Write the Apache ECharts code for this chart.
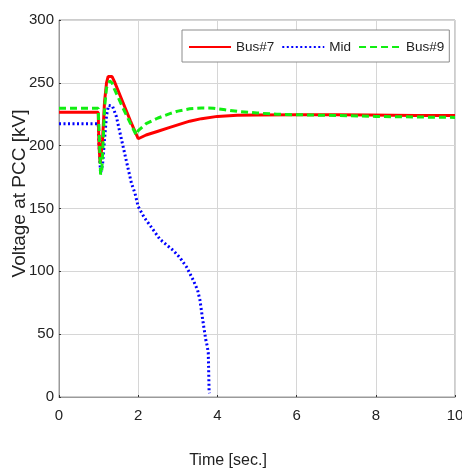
<!DOCTYPE html>
<html>
<head>
<meta charset="utf-8">
<script src="https://cdn.jsdelivr.net/npm/echarts@6/dist/echarts.min.js"></script>
<style>
  html, body { margin: 0; padding: 0; background: #fff; }
  #chart { width: 462px; height: 470px; }
</style>
</head>
<body>
<div id="chart"></div>
<script>
// Voltage at PCC after a disturbance at t = 1 s
const timeBus7 = [0, 0.99, 1.01, 1.04, 1.07, 1.1, 1.15, 1.2, 1.24, 1.28, 1.34, 1.4, 1.6, 1.8, 2.0, 2.2, 2.5, 2.8, 3.0, 3.3, 3.6, 4.0, 4.5, 5.0, 6.0, 7.0, 7.85, 7.9, 9.0, 10];
const voltBus7 = [226.5, 226.5, 200, 186, 187, 205, 235, 250, 255, 256.5, 255, 251, 235.5, 220, 205.5, 208.5, 211.5, 214.5, 216.5, 219.5, 221.5, 223.3, 224.2, 224.5, 224.6, 224.6, 224.5, 224, 224, 224];

const timeMid = [0, 0.99, 1.02, 1.05, 1.1, 1.15, 1.2, 1.25, 1.29, 1.35, 1.45, 1.57, 1.7, 1.83, 1.92, 2.0, 2.15, 2.3, 2.55, 2.72, 2.89, 3.05, 3.22, 3.39, 3.5, 3.56, 3.64, 3.71, 3.74, 3.77, 3.79, 3.8];
const voltMid = [217.5, 217.5, 195, 178, 185, 205, 224, 232, 233.5, 231.5, 223, 206, 188, 170, 162, 151.5, 143, 136.5, 125.5, 121, 116.5, 111, 103.5, 93, 85, 77, 59, 45, 41, 35, 5, 3];

const timeBus9 = [0, 0.99, 1.02, 1.05, 1.08, 1.11, 1.15, 1.2, 1.28, 1.34, 1.4, 1.6, 1.8, 1.95, 2.0, 2.2, 2.5, 2.8, 3.0, 3.3, 3.6, 3.9, 4.2, 4.5, 5.0, 5.5, 6.0, 7.0, 8.0, 9.0, 10];
const voltBus9 = [229.8, 229.8, 205, 177, 180, 200, 230, 246, 251.5, 250, 245, 231, 218, 208.5, 212, 217.5, 222, 225.5, 227.5, 229.3, 230, 229.8, 228.5, 227.3, 226, 225, 224.6, 224, 223.3, 222.8, 222.5];

const seriesNames = ['Bus#7', 'Mid', 'Bus#9'];
const timeTicks = { min: 0, max: 10, step: 2 };
const voltTicks = { min: 0, max: 300, step: 50 };

const zip = (ts, vs) => ts.map((t, i) => [t, vs[i]]);

const font = "'Liberation Sans', Arial, sans-serif";

const chart = echarts.init(document.getElementById('chart'), null, { renderer: 'canvas' });

chart.setOption({
  backgroundColor: '#ffffff',
  animation: false,
  grid: {
    left: 59, right: 7, top: 20, bottom: 73,
    containLabel: false,
    outerBoundsMode: 'none',
    show: true, borderColor: '#9a9a9a', borderWidth: 1
  },
  legend: {
    data: seriesNames,
    left: 182, top: 30,
    orient: 'horizontal',
    padding: [10, 5, 8, 6],
    itemWidth: 42, itemHeight: 10, itemGap: 7,
    itemStyle: { opacity: 0 },
    borderColor: '#8c8c8c', borderWidth: 1,
    backgroundColor: '#ffffff',
    textStyle: { fontFamily: font, fontSize: 13.5, color: '#222' }
  },
  xAxis: {
    type: 'value',
    min: timeTicks.min, max: timeTicks.max, interval: timeTicks.step,
    name: 'Time [sec.]',
    nameLocation: 'middle',
    nameGap: 56,
    nameMoveOverlap: false,
    nameTextStyle: { fontFamily: font, fontSize: 16, color: '#222', padding: [0, 58, 0, 0] },
    axisLine: { show: true, lineStyle: { color: '#9a9a9a' } },
    axisTick: { show: true, inside: true, length: 2, lineStyle: { color: '#333' } },
    axisLabel: { fontFamily: font, fontSize: 15, color: '#222', margin: 11 },
    splitLine: { show: true, lineStyle: { color: '#d6d6d6', width: 1 } }
  },
  yAxis: {
    type: 'value',
    min: voltTicks.min, max: voltTicks.max, interval: voltTicks.step,
    name: 'Voltage at PCC [kV]',
    nameLocation: 'middle',
    nameGap: 30,
    nameMoveOverlap: false,
    nameTextStyle: { fontFamily: font, fontSize: 19, color: '#222', padding: [0, 0, 0, 30] },
    axisLine: { show: true, lineStyle: { color: '#9a9a9a' } },
    axisTick: { show: true, inside: true, length: 2, lineStyle: { color: '#333' } },
    axisLabel: { fontFamily: font, fontSize: 15, color: '#222', margin: 5 },
    splitLine: { show: true, lineStyle: { color: '#d6d6d6', width: 1 } }
  },
  series: [
    {
      name: seriesNames[0], type: 'line', data: zip(timeBus7, voltBus7),
      symbol: 'none', z: 3,
      itemStyle: { color: '#ff0000' },
      lineStyle: { color: '#ff0000', width: 3, type: 'solid' }
    },
    {
      name: seriesNames[1], type: 'line', data: zip(timeMid, voltMid),
      symbol: 'none', z: 2,
      itemStyle: { color: '#0000ff' },
      lineStyle: { color: '#0000ff', width: 3, type: [2, 2.5] }
    },
    {
      name: seriesNames[2], type: 'line', data: zip(timeBus9, voltBus9),
      symbol: 'none', z: 4,
      itemStyle: { color: '#11ee11' },
      lineStyle: { color: '#11ee11', width: 3, type: [7, 4] }
    }
  ]
});
</script>
</body>
</html>
